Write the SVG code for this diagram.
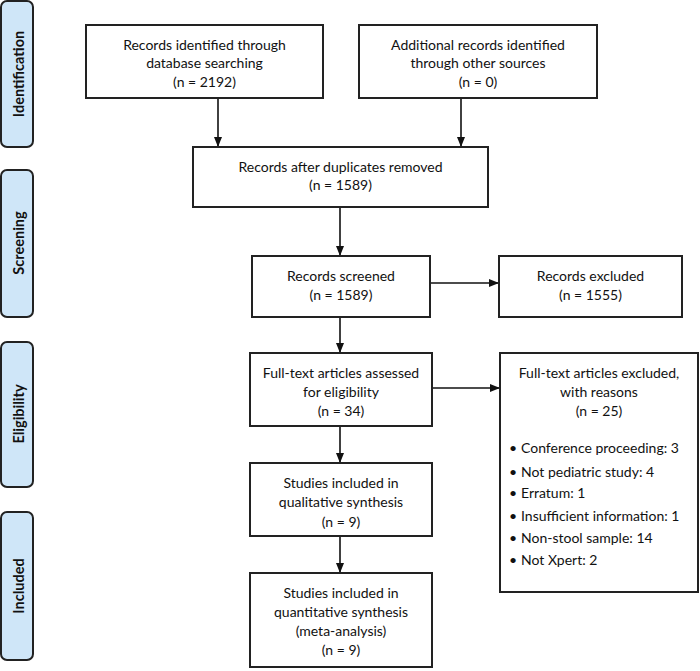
<svg xmlns="http://www.w3.org/2000/svg" width="700" height="671" viewBox="0 0 700 671">
<defs>
<marker id="ah" markerWidth="10" markerHeight="8" refX="10" refY="4" orient="auto" markerUnits="userSpaceOnUse">
<path d="M0,0 L10,4 L0,8 Z" fill="#111"/>
</marker>
<style>
.box{fill:#fff;stroke:#222;stroke-width:2}
.side{fill:#cfe6f8;stroke:#222;stroke-width:2}
.t{font-family:Lato,"Open Sans","Liberation Sans",sans-serif;font-size:14px;fill:#111;text-anchor:middle}
.tl{font-family:Lato,"Open Sans","Liberation Sans",sans-serif;font-size:14px;fill:#111}
.st{font-family:Lato,"Liberation Sans",sans-serif;font-size:14.5px;font-weight:bold;fill:#111;text-anchor:middle}
.c{stroke:#111;stroke-width:1.6;fill:none;marker-end:url(#ah)}
</style>
</defs>
<g id="side-identification"><rect class="side" x="1" y="1" width="32" height="146" rx="6"/><text class="st" transform="translate(23.5,74) rotate(-90)">Identification</text></g>
<g id="side-screening"><rect class="side" x="1" y="170" width="32" height="147" rx="6"/><text class="st" transform="translate(23.5,243) rotate(-90)">Screening</text></g>
<g id="side-eligibility"><rect class="side" x="1" y="342" width="32" height="145" rx="6"/><text class="st" transform="translate(23.5,414) rotate(-90)">Eligibility</text></g>
<g id="side-included"><rect class="side" x="1" y="512" width="32" height="148" rx="6"/><text class="st" transform="translate(23.5,586) rotate(-90)">Included</text></g>

<g id="connectors">
<line class="c" x1="218" y1="98" x2="218" y2="147"/>
<line class="c" x1="461" y1="98" x2="461" y2="147"/>
<line class="c" x1="340" y1="207" x2="340" y2="256"/>
<line class="c" x1="430" y1="283" x2="499" y2="283"/>
<line class="c" x1="340" y1="317" x2="340" y2="353"/>
<line class="c" x1="432" y1="388" x2="500" y2="388"/>
<line class="c" x1="340" y1="426" x2="340" y2="463"/>
<line class="c" x1="340" y1="536" x2="340" y2="573"/>
</g>

<g id="n1"><rect class="box" x="86" y="25" width="237" height="73"/>
<text class="t" x="204.5" y="50">Records identified through</text>
<text class="t" x="204.5" y="68">database searching</text>
<text class="t" x="204.5" y="87">(n = 2192)</text></g>

<g id="n2"><rect class="box" x="359" y="25" width="238" height="73"/>
<text class="t" x="478" y="50">Additional records identified</text>
<text class="t" x="478" y="68">through other sources</text>
<text class="t" x="478" y="87">(n = 0)</text></g>

<g id="n3"><rect class="box" x="193" y="147" width="295" height="60"/>
<text class="t" x="340.5" y="172">Records after duplicates removed</text>
<text class="t" x="340.5" y="190">(n = 1589)</text></g>

<g id="n4"><rect class="box" x="252" y="256" width="178" height="61"/>
<text class="t" x="341" y="281">Records screened</text>
<text class="t" x="341" y="300">(n = 1589)</text></g>

<g id="n5"><rect class="box" x="499" y="256" width="183" height="61"/>
<text class="t" x="590.5" y="281">Records excluded</text>
<text class="t" x="590.5" y="300">(n = 1555)</text></g>

<g id="n6"><rect class="box" x="250" y="353" width="182" height="73"/>
<text class="t" x="341" y="378">Full-text articles assessed</text>
<text class="t" x="341" y="397">for eligibility</text>
<text class="t" x="341" y="416">(n = 34)</text></g>

<g id="n7"><rect class="box" x="500" y="353" width="198" height="239"/>
<text class="t" x="599" y="378">Full-text articles excluded,</text>
<text class="t" x="599" y="397">with reasons</text>
<text class="t" x="599" y="416">(n = 25)</text>
<text class="tl" x="509" y="453">•</text><text class="tl" x="521" y="453">Conference proceeding: 3</text>
<text class="tl" x="509" y="477">•</text><text class="tl" x="521" y="477">Not pediatric study: 4</text>
<text class="tl" x="509" y="498">•</text><text class="tl" x="521" y="498">Erratum: 1</text>
<text class="tl" x="509" y="521">•</text><text class="tl" x="521" y="521">Insufficient information: 1</text>
<text class="tl" x="509" y="543">•</text><text class="tl" x="521" y="543">Non-stool sample: 14</text>
<text class="tl" x="509" y="565">•</text><text class="tl" x="521" y="565">Not Xpert: 2</text></g>

<g id="n8"><rect class="box" x="250" y="463" width="182" height="73"/>
<text class="t" x="341" y="488">Studies included in</text>
<text class="t" x="341" y="507">qualitative synthesis</text>
<text class="t" x="341" y="527">(n = 9)</text></g>

<g id="n9"><rect class="box" x="250" y="573" width="182" height="94"/>
<text class="t" x="341" y="598">Studies included in</text>
<text class="t" x="341" y="617">quantitative synthesis</text>
<text class="t" x="341" y="636">(meta-analysis)</text>
<text class="t" x="341" y="655">(n = 9)</text></g>
</svg>
